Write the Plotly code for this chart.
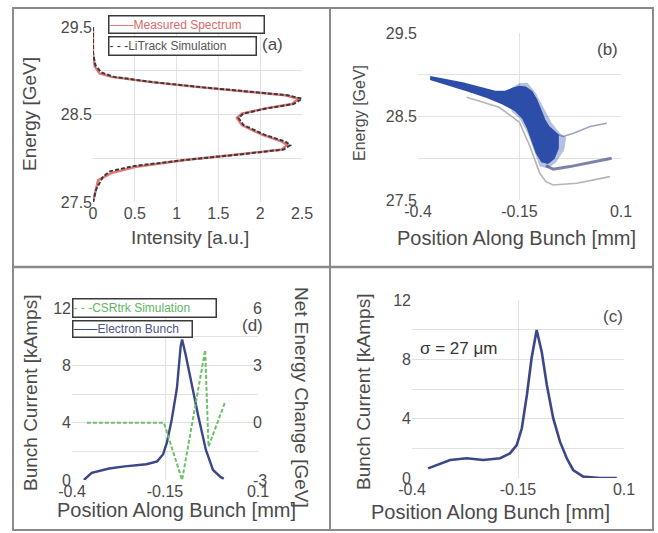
import plotly.graph_objects as go

W, H = 658, 533

# ---------------- data ----------------
# (a) energy spectrum: intensity [a.u.] vs energy [GeV]
a_meas_int = [0.0, 0.0, 0.02, 0.08, 0.22, 0.70, 1.30, 1.90, 2.30, 2.46, 2.38, 2.06, 1.78, 1.72, 1.78, 2.02, 2.26, 2.32, 2.26, 1.70, 1.10, 0.50, 0.22, 0.06, 0.02, 0.0]
a_meas_e = [29.5, 29.2, 29.05, 28.97, 28.93, 28.87, 28.81, 28.76, 28.72, 28.68, 28.62, 28.57, 28.51, 28.46, 28.38, 28.27, 28.19, 28.15, 28.10, 28.04, 27.98, 27.90, 27.83, 27.75, 27.60, 27.5]
a_sim_int = [0.0, 0.0, 0.03, 0.10, 0.25, 0.72, 1.32, 1.92, 2.33, 2.50, 2.40, 2.08, 1.80, 1.74, 1.80, 2.05, 2.30, 2.36, 2.28, 1.72, 1.10, 0.48, 0.20, 0.12, 0.04, 0.0]
a_sim_e = [29.5, 29.2, 29.06, 28.98, 28.93, 28.87, 28.81, 28.76, 28.72, 28.68, 28.62, 28.57, 28.51, 28.46, 28.38, 28.27, 28.19, 28.15, 28.10, 28.04, 27.98, 27.91, 27.85, 27.79, 27.65, 27.5]

# (b) longitudinal phase space: outlines of the particle cloud
b_core_x = [-0.370, -0.33, -0.29, -0.25, -0.21, -0.185, -0.165, -0.15, -0.135, -0.12, -0.108, -0.098,
            -0.088, -0.078, -0.065, -0.055,
            -0.055, -0.065, -0.08, -0.095, -0.108, -0.118, -0.13, -0.142, -0.16, -0.19, -0.23, -0.28,
            -0.33, -0.37]
b_core_e = [28.975, 28.94, 28.90, 28.85, 28.80, 28.80, 28.84, 28.86, 28.85, 28.80, 28.70, 28.58,
            28.46, 28.38, 28.32, 28.28,
            28.12, 28.00, 27.94, 27.96, 28.06, 28.20, 28.36, 28.48, 28.57, 28.65, 28.73, 28.81,
            28.88, 28.945]
b_halo_x = [-0.17, -0.15, -0.13, -0.11, -0.09, -0.07, -0.05, -0.035,
            -0.04, -0.06, -0.08, -0.10, -0.115, -0.13, -0.15, -0.17]
b_halo_e = [28.84, 28.90, 28.90, 28.78, 28.60, 28.42, 28.30, 28.25,
            28.10, 27.95, 27.88, 27.90, 28.10, 28.30, 28.48, 28.56]
b_tail_hi_x = [-0.055, -0.042, -0.017, 0.024, 0.065]
b_tail_hi_e = [28.28, 28.26, 28.30, 28.38, 28.42]
b_tail_lo_x = [-0.085, -0.067, -0.026, 0.032, 0.077]
b_tail_lo_e = [27.91, 27.87, 27.90, 27.96, 28.0]
b_edge_x = [-0.28, -0.2, -0.15, -0.125, -0.1, -0.085, -0.067, -0.009, 0.073]
b_edge_e = [28.73, 28.61, 28.43, 28.15, 27.82, 27.72, 27.68, 27.70, 27.78]

# (d) bunch current [kA] and CSR net energy change [GeV]
d_bunch_x = [-0.368, -0.347, -0.3, -0.258, -0.2, -0.171, -0.155, -0.145, -0.132, -0.118, -0.108, -0.104,
             -0.095, -0.084, -0.06, -0.04, -0.021, 0.0, 0.008]
d_bunch_y = [0.0, 0.5, 0.8, 0.95, 1.1, 1.3, 1.8, 2.6, 4.2, 6.4, 9.3, 9.8, 8.8, 7.4, 4.4, 2.1, 0.7, 0.2, 0.1]
d_csr_x = [-0.36, -0.153, -0.104, -0.042, -0.033, 0.012]
d_csr_y = [0.0, 0.0, -3.0, 3.8, -1.25, 1.1]

# (c) bunch current [kA]
c_x = [-0.362, -0.31, -0.271, -0.232, -0.192, -0.169, -0.153, -0.141, -0.129, -0.118, -0.106, -0.094,
       -0.082, -0.067, -0.051, -0.035, -0.02, 0.004, 0.043, 0.083]
c_y = [0.65, 1.21, 1.33, 1.21, 1.33, 1.66, 2.22, 3.35, 5.6, 8.07, 9.98, 8.5, 6.27, 4.03, 2.45, 1.33, 0.54,
       0.09, 0.0, 0.0]

energy_ticks = [27.5, 28.5, 29.5]
intensity_ticks = [0, 0.5, 1, 1.5, 2, 2.5]
intensity_labels = ["0", "0.5", "1", "1.5", "2", "2.5"]
pos_ticks = [-0.4, -0.15, 0.1]
pos_labels = ["-0.4", "-0.15", "0.1"]
current_ticks = [0, 4, 8, 12]
netE_ticks = [-3, 0, 3, 6]

legend_a = ["Measured Spectrum", "LiTrack Simulation"]
legend_d = ["CSRtrk Simulation", "Electron Bunch"]

# ---------------- helpers for layout positions ----------------
def fx(px):
    return px / W

def fy(py):
    return 1 - py / H

TXT = "#4a4a4a"
GRID = "#e2e2e2"
FONT = "Liberation Sans"
BLUE = "#2d4ea8"
NAVY = "#3b4787"
GREEN = "#6cc06c"
RED = "#e47878"
SIMC = "#3a3a3a"

fig = go.Figure()

# (a)
fig.add_trace(go.Scatter(x=a_meas_int, y=a_meas_e, mode="lines", name=legend_a[0],
                         line=dict(color=RED, width=2.4), xaxis="x", yaxis="y", showlegend=False))
fig.add_trace(go.Scatter(x=a_sim_int, y=a_sim_e, mode="lines", name=legend_a[1],
                         line=dict(color=SIMC, width=2, dash="4px,2px"), xaxis="x", yaxis="y",
                         showlegend=False))

# (b)
fig.add_trace(go.Scatter(x=b_edge_x, y=b_edge_e, mode="lines", line=dict(color="#b4b4bc", width=1.6),
                         xaxis="x2", yaxis="y2", showlegend=False))
fig.add_trace(go.Scatter(x=b_tail_hi_x, y=b_tail_hi_e, mode="lines",
                         line=dict(color="rgba(90,100,160,0.6)", width=1.5),
                         xaxis="x2", yaxis="y2", showlegend=False))
fig.add_trace(go.Scatter(x=b_tail_lo_x, y=b_tail_lo_e, mode="lines",
                         line=dict(color="rgba(80,88,140,0.75)", width=3),
                         xaxis="x2", yaxis="y2", showlegend=False))
fig.add_trace(go.Scatter(x=b_halo_x, y=b_halo_e, mode="lines", fill="toself",
                         fillcolor="rgba(45,78,168,0.35)", line=dict(width=0),
                         xaxis="x2", yaxis="y2", showlegend=False))
fig.add_trace(go.Scatter(x=b_core_x, y=b_core_e, mode="lines", fill="toself",
                         fillcolor=BLUE, line=dict(color=BLUE, width=1.5),
                         xaxis="x2", yaxis="y2", showlegend=False))

# (d)
fig.add_trace(go.Scatter(x=d_csr_x, y=d_csr_y, mode="lines", name=legend_d[0],
                         line=dict(color=GREEN, width=2, dash="4px,2px"), xaxis="x3", yaxis="y4",
                         showlegend=False))
fig.add_trace(go.Scatter(x=d_bunch_x, y=d_bunch_y, mode="lines", name=legend_d[1],
                         line=dict(color=NAVY, width=2.4), xaxis="x3", yaxis="y3", showlegend=False))

# (c)
fig.add_trace(go.Scatter(x=c_x, y=c_y, mode="lines", line=dict(color=NAVY, width=2.6),
                         xaxis="x4", yaxis="y5", showlegend=False))

tickfont = dict(family=FONT, size=16, color=TXT)

def ax(dom, rng, tv, tt, anchor, minor=None):
    d = dict(domain=dom, range=rng, tickvals=tv, ticktext=tt, anchor=anchor, showgrid=True,
             gridcolor=GRID, gridwidth=1, zeroline=False, showline=False, ticks="",
             tickfont=tickfont, automargin=False, fixedrange=True)
    if minor:
        d["minor"] = dict(dtick=minor, showgrid=True, gridcolor=GRID, gridwidth=1)
    return d

e_lbl = [str(v) for v in energy_ticks]
cur_lbl = [str(v) for v in current_ticks]

layout = dict(
    width=W, height=H, autosize=False,
    margin=dict(l=0, r=0, t=0, b=0),
    paper_bgcolor="white", plot_bgcolor="white",
    font=dict(family=FONT, color=TXT),
    showlegend=False,
    xaxis=ax([fx(93), fx(302)], [0, 2.5], intensity_ticks, intensity_labels, "y"),
    yaxis=ax([fy(202), fy(27)], [27.5, 29.5], energy_ticks, e_lbl, "x", minor=0.5),
    xaxis2=ax([fx(418), fx(621)], [-0.4, 0.1], pos_ticks, pos_labels, "y2"),
    yaxis2=ax([fy(200), fy(33)], [27.5, 29.5], energy_ticks, e_lbl, "x2", minor=0.5),
    xaxis3=ax([fx(72), fx(258)], [-0.4, 0.1], pos_ticks, pos_labels, "y3"),
    yaxis3=ax([fy(480), fy(308)], [0, 12], current_ticks, cur_lbl, "x3", minor=2),
    xaxis4=ax([fx(412), fx(624)], [-0.4, 0.1], pos_ticks, pos_labels, "y5"),
    yaxis5=ax([fy(478), fy(300)], [0, 12], current_ticks, cur_lbl, "x4", minor=2),
)
y4 = ax([fy(480), fy(308)], [-3, 6], netE_ticks, [str(v) for v in netE_ticks], "x3")
y4.update(overlaying="y3", side="right", showgrid=False, ticklabelstandoff=-6)
layout["yaxis4"] = y4

fig.update_layout(**layout)

# axis titles and panel labels (paper coordinates)
def ann(text, xp, yp, size, angle=0):
    fig.add_annotation(text=text, x=fx(xp), y=fy(yp), xref="paper", yref="paper", showarrow=False,
                       textangle=angle, font=dict(family=FONT, size=size, color=TXT),
                       xanchor="center", yanchor="middle")

ann("Energy [GeV]", 29, 114, 19, -90)
ann("Intensity [a.u.]", 190, 238, 19)
ann("Energy [GeV]", 360, 113, 16, -90)
ann("Position Along Bunch [mm]", 516, 238, 20)
ann("Bunch Current [kAmps]", 30, 393, 19, -90)
ann("Net Energy Change [GeV]", 302, 397, 19, 90)
ann("Position Along Bunch [mm]", 176, 510, 20)
ann("Bunch Current [kAmps]", 363, 392, 19, -90)
ann("Position Along Bunch [mm]", 490, 512, 20)
ann("(a)", 272, 44, 17)
ann("(b)", 607, 50, 17)
ann("(d)", 252, 325, 17)
ann("(c)", 613, 316, 17)
fig.add_annotation(text="σ = 27 μm", x=fx(418), y=fy(348), xref="paper", yref="paper", showarrow=False,
                   xanchor="left", yanchor="middle", font=dict(family=FONT, size=17, color="#333"))

# legend boxes
def legbox(label, sym, symcolor, txtcolor, left, top, w, h):
    fig.add_annotation(text=f'<span style="color:{symcolor}">{sym}</span>{label}',
                       x=fx(left), y=fy(top), xref="paper", yref="paper", showarrow=False,
                       xanchor="left", yanchor="top", align="left", width=w, height=h,
                       bgcolor="white", bordercolor="#3a3a3a", borderwidth=1.5, borderpad=0,
                       font=dict(family=FONT, size=12, color=txtcolor))

legbox(legend_a[0], "——", RED, "#dc6a6a", 108, 15, 154, 16)
legbox(legend_a[1], "- - -", SIMC, "#555555", 108, 36, 146, 17)
legbox(legend_d[0], "- - -", GREEN, "#62b562", 72, 298, 142, 17)
legbox(legend_d[1], "——", NAVY, "#4d528c", 72, 320, 118, 15)

# panel frame
BORDER = "#8a8a8a"
fig.add_shape(type="rect", xref="paper", yref="paper", x0=fx(13), x1=fx(653), y0=fy(530), y1=fy(8),
              line=dict(color=BORDER, width=2))
fig.add_shape(type="line", xref="paper", yref="paper", x0=fx(330), x1=fx(330), y0=fy(530), y1=fy(8),
              line=dict(color=BORDER, width=2))
fig.add_shape(type="line", xref="paper", yref="paper", x0=fx(13), x1=fx(653), y0=fy(267), y1=fy(267),
              line=dict(color=BORDER, width=2.5))

fig.write_html("out.html", config={"displayModeBar": False},
               post_script="document.body.style.margin='0px';document.body.style.overflow='hidden';")
